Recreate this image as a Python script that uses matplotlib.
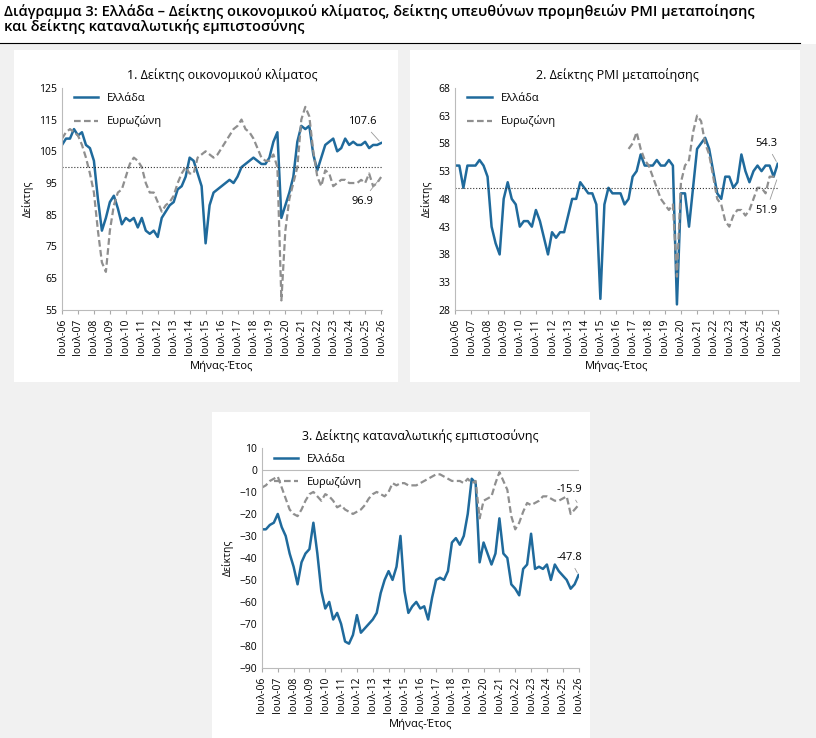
import numpy as np
import matplotlib
matplotlib.use("Agg")
import matplotlib.pyplot as plt
from matplotlib.patches import Rectangle

plt.rcParams['font.family'] = ['Open Sans', 'DejaVu Sans']

# quarterly readings, Jul / Oct / Jan / Apr of each year starting Jul-06
esi_gr = [107, 109, 109, 112, 110, 111, 107, 106, 102, 90, 80, 84,
          89, 91, 87, 82, 84, 83, 84, 81, 84, 80, 79, 80,
          78, 84, 86, 88, 89, 93, 94, 97, 103, 102, 98, 94,
          76, 88, 92, 93, 94, 95, 96, 95, 97, 100, 101, 102,
          103, 102, 101, 101, 103, 108, 111, 84, 88, 92, 97, 108,
          113, 112, 113, 104, 99, 103, 107, 108, 109, 105, 106, 109,
          107, 108, 107, 107, 108, 106, 107, 107, 107.6]
esi_ez = [109, 111, 112, 111, 110, 107, 103, 98, 92, 80, 70, 67,
          80, 88, 92, 93, 97, 101, 103, 102, 100, 95, 92, 92,
          89, 86, 88, 89, 91, 95, 98, 100, 98, 98, 103, 104,
          105, 104, 103, 104, 106, 108, 110, 112, 113, 115, 112, 111,
          109, 106, 103, 102, 102, 104, 100, 58, 80, 90, 95, 100,
          115, 119, 116, 105, 97, 94, 99, 98, 94, 95, 96, 96,
          95, 95, 95, 96, 95, 98, 94, 95, 96.9]
pmi_gr = [54, 54, 50, 54, 54, 54, 55, 54, 52, 43, 40, 38,
          48, 51, 48, 47, 43, 44, 44, 43, 46, 44, 41, 38,
          42, 41, 42, 42, 45, 48, 48, 51, 50, 49, 49, 47,
          30, 47, 50, 49, 49, 49, 47, 48, 52, 53, 56, 54,
          54, 54, 55, 54, 54, 55, 54, 29, 49, 49, 43, 50,
          57, 58, 59, 57, 53, 49, 48, 52, 52, 50, 51, 56,
          53, 51, 53, 54, 53, 54, 54, 52, 54.3]
# eurozone PMI shown from Apr-17
pmi_ez = [57, 58, 60, 57, 55, 54, 52, 50, 48, 47, 46, 47,
          34, 51, 54, 55, 60, 63, 62, 58, 56, 52, 48, 47,
          44, 43, 45, 46, 46, 45, 46, 48, 50, 50, 49, 52,
          52, 51.9]
cc_gr = [-27, -27, -25, -24, -20, -26, -30, -38, -44, -52, -42, -38,
         -36, -24, -38, -55, -63, -60, -68, -65, -70, -78, -79, -75,
         -66, -74, -72, -70, -68, -65, -56, -50, -46, -50, -44, -30,
         -55, -65, -62, -60, -63, -62, -68, -58, -50, -49, -50, -46,
         -33, -31, -34, -30, -20, -4, -6, -42, -33, -38, -43, -38,
         -22, -38, -40, -52, -54, -57, -45, -43, -29, -45, -44, -45,
         -43, -50, -43, -46, -48, -50, -54, -52, -47.8]
cc_ez = [-8, -7, -5, -4, -3, -8, -13, -18, -20, -21, -18, -14,
         -11, -10, -12, -14, -11, -12, -14, -17, -16, -18, -19, -20,
         -19, -18, -16, -13, -11, -10, -11, -12, -10, -6, -7, -6,
         -6, -7, -7, -7, -6, -5, -4, -3, -2, -2, -3, -4,
         -5, -5, -5, -6, -4, -6, -5, -22, -14, -13, -12, -6,
         -1, -5, -9, -21, -27, -24, -19, -15, -16, -15, -14, -12,
         -12, -13, -14, -14, -13, -12, -20, -18, -15.9]

tick_years = list(range(2006, 2027))
tick_labels = [f"Ιουλ-{y % 100:02d}" for y in tick_years]

BLUE = "#1f6a9c"
GREY = "#8f8f8f"

fig = plt.figure(figsize=(8.16, 7.38), dpi=100)
fig.patch.set_facecolor("#f1f1f1")
for (x0, y0, x1, y1) in [(14, 50, 398, 382), (410, 50, 800, 382), (212, 412, 590, 738)]:
    fig.patches.append(Rectangle((x0 / 816, 1 - y1 / 738), (x1 - x0) / 816, (y1 - y0) / 738,
                                 transform=fig.transFigure, facecolor="white", edgecolor="none", zorder=-5))
# header
fig.patches.append(Rectangle((0, 1 - 44 / 738), 1, 44 / 738, transform=fig.transFigure,
                             facecolor="white", edgecolor="none", zorder=-5))
fig.text(0.005, 1 - 4 / 738, "Διάγραμμα 3: Ελλάδα – Δείκτης οικονομικού κλίματος, δείκτης υπευθύνων προμηθειών PMI μεταποίησης\nκαι δείκτης καταναλωτικής εμπιστοσύνης",
         ha="left", va="top", fontsize=10.5, fontweight="semibold", linespacing=1.0)
fig.add_artist(plt.Line2D([0, 800 / 816], [1 - 43 / 738] * 2, color="black", lw=0.8))


def quarterly(vals, start=2006.5):
    return start + 0.25 * np.arange(len(vals))


def panel(rect, title, gr, ez, ez_start, ylim, yticks, ref, gr_lab, ez_lab, gr_xy, ez_xy):
    ax = fig.add_axes(rect)
    ax.set_facecolor("none")
    ax.plot(quarterly(gr), gr, color=BLUE, lw=1.8, label="Ελλάδα")
    ax.plot(quarterly(ez, ez_start), ez, color=GREY, lw=1.6, ls=(0, (3, 1.5)), label="Ευρωζώνη")
    if ref is not None:
        ax.axhline(ref, color="#333333", lw=0.8, ls=":")
    ax.set_xlim(2006.5, 2026.55)
    ax.set_ylim(*ylim)
    ax.set_yticks(yticks)
    ax.set_xticks([y + 0.5 for y in tick_years])
    ax.set_xticklabels(tick_labels, rotation=90, fontsize=7.5)
    ax.tick_params(axis="y", labelsize=7.5, length=0)
    ax.tick_params(axis="x", length=3, color="#aaaaaa")
    for s in ["top", "right"]:
        ax.spines[s].set_visible(False)
    for s in ["left", "bottom"]:
        ax.spines[s].set_color("#bbbbbb")
    ax.set_title(title, fontsize=9, pad=6)
    ax.set_ylabel("Δείκτης", fontsize=7.5)
    ax.set_xlabel("Μήνας-Έτος", fontsize=8)
    ax.legend(loc="upper left", frameon=False, fontsize=8, handlelength=2.2,
              labelspacing=1.0, borderaxespad=0.1, bbox_to_anchor=(0.02, 1.0))
    ax.annotate(gr_lab, xy=(2026.5, gr[-1]), xytext=gr_xy, fontsize=8, ha="center",
                arrowprops=dict(arrowstyle="-", color="#999999", lw=0.6))
    ax.annotate(ez_lab, xy=(2026.5, ez[-1]), xytext=ez_xy, fontsize=8, ha="center",
                arrowprops=dict(arrowstyle="-", color="#999999", lw=0.6))
    return ax


panel([0.076, 0.58, 0.392, 0.301], "1. Δείκτης οικονομικού κλίματος", esi_gr, esi_ez, 2006.5,
      (55, 125), range(55, 126, 10), 100, "107.6", "96.9", (2025.3, 113.5), (2025.3, 88.5))
panel([0.558, 0.58, 0.396, 0.301], "2. Δείκτης PMI μεταποίησης", pmi_gr, pmi_ez, 2017.25,
      (28, 68), range(28, 69, 5), 50, "54.3", "51.9", (2025.8, 57.5), (2025.8, 45.5))
ax3 = panel([0.321, 0.095, 0.389, 0.298], "3. Δείκτης καταναλωτικής εμπιστοσύνης", cc_gr, cc_ez, 2006.5,
            (-90, 10), range(-90, 11, 10), None, "-47.8", "-15.9", (2025.9, -41), (2025.9, -10))
ax3.axhline(0, color="#bbbbbb", lw=0.8)

fig.savefig("out.png", dpi=100)
